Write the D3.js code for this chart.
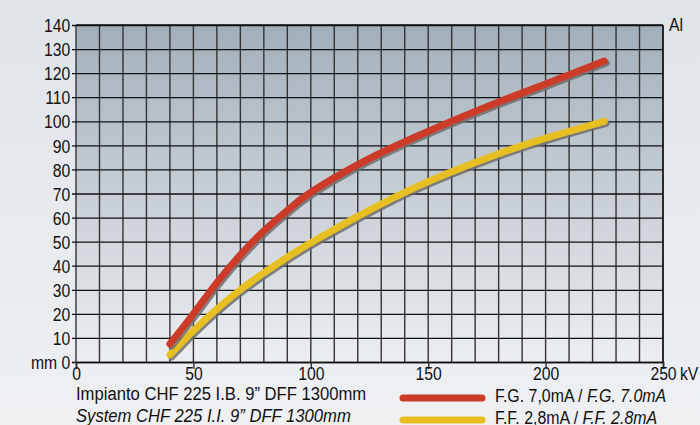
<!DOCTYPE html>
<html>
<head>
<meta charset="utf-8">
<script src="https://cdn.jsdelivr.net/npm/d3@7"></script>
<style>
  html, body { margin: 0; padding: 0; }
  body { width: 700px; height: 425px; overflow: hidden; }
  svg text { font-family: "Liberation Sans", Arial, sans-serif; fill: #111; }
</style>
</head>
<body>
<div id="chart"></div>
<script>
// kV values on x, mm on y
var red_kv = [40, 50, 60, 70, 80, 90, 100, 120, 140, 160, 180, 200, 225];
var red_mm = [7.5, 20, 33, 44.5, 54.5, 63, 70.5, 82, 91.5, 100, 108, 115.5, 125];
var yel_kv = [40, 50, 60, 70, 80, 90, 100, 120, 140, 160, 180, 200, 225];
var yel_mm = [3, 13, 22, 30, 37, 43.5, 49.5, 60.5, 70.5, 79, 86.5, 93, 100];

var x_ticks = [0, 50, 100, 150, 200, 250];
var y_ticks = d3.range(0, 141, 10);
var x_grid = d3.range(0, 251, 10);

var legend_names = ["F.G. 7,0mA / ", "F.F. 2,8mA / "];
var legend_names_en = ["F.G. 7.0mA", "F.F. 2.8mA"];
var footer_it = "Impianto CHF 225 I.B. 9\u201D DFF 1300mm";
var footer_en = "System CHF 225 I.I. 9\u201D DFF 1300mm";

var w = 700, h = 425;
var left = 76, right = 663, top_y = 25, bottom_y = 362;
var fs = 18.5;

var the_svg = d3.select('#chart')
  .append('svg')
    .attr('width', w)
    .attr('height', h);

var defs = the_svg.append('defs');
var pg = defs.append('linearGradient').attr('id', 'page_bg')
  .attr('x1', 0).attr('y1', 0).attr('x2', 0).attr('y2', 1);
pg.append('stop').attr('offset', '0%').attr('stop-color', '#dfe4e9');
pg.append('stop').attr('offset', '100%').attr('stop-color', '#eef0f2');

var plot_bg = defs.append('linearGradient').attr('id', 'plot_bg')
  .attr('x1', 0).attr('y1', 0).attr('x2', 0).attr('y2', 1);
plot_bg.append('stop').attr('offset', '0%').attr('stop-color', '#a2afba');
plot_bg.append('stop').attr('offset', '100%').attr('stop-color', '#eceef1');

the_svg.append('rect')
  .attr('width', w).attr('height', h)
  .attr('fill', 'url(#page_bg)');

var x = d3.scaleLinear().domain([0, 250]).range([left, right]);
var y = d3.scaleLinear().domain([0, 140]).range([bottom_y, top_y]);

the_svg.append('rect')
  .attr('x', x(0)).attr('y', y(140))
  .attr('width', x(250) - x(0)).attr('height', y(0) - y(140))
  .attr('fill', 'url(#plot_bg)');

// vertical grid
the_svg.append('g').selectAll('line')
  .data(x_grid)
  .enter().append('line')
    .attr('x1', function(d) { return x(d); })
    .attr('x2', function(d) { return x(d); })
    .attr('y1', y(140))
    .attr('y2', y(0))
    .attr('stroke', '#333')
    .attr('stroke-width', 1.4);

// y axis doubles as the horizontal grid
var yAxis = d3.axisLeft(y)
  .tickValues(y_ticks)
  .tickSize(-(right - left + 4))
  .tickPadding(2)
  .tickFormat(function(d) { return d == 0 ? 'mm 0' : d; });

var gy = the_svg.append('g')
  .attr('transform', 'translate(' + (left - 4) + ',0)')
  .call(yAxis);
gy.select('.domain').remove();
gy.selectAll('.tick line').attr('stroke', '#111').attr('stroke-width', 1.3);
gy.selectAll('.tick text')
  .attr('font-size', fs)
  .attr('font-family', null)
  .attr('dy', '0.36em')
  .attr('transform', 'scale(0.85,1)');

var xAxis = d3.axisBottom(x)
  .tickValues(x_ticks)
  .tickSize(7)
  .tickPadding(-2);

var gx = the_svg.append('g')
  .attr('transform', 'translate(0,' + y(0) + ')')
  .call(xAxis);
gx.select('.domain').attr('stroke', '#111').attr('stroke-width', 1.6);
gx.selectAll('.tick line').attr('stroke', '#333').attr('stroke-width', 1.4);
gx.selectAll('.tick text')
  .attr('font-size', fs)
  .attr('font-family', null)
  .attr('dy', '0.72em')
  .attr('transform', 'scale(0.85,1)');

the_svg.append('text')
  .attr('transform', 'translate(' + (x(250) + 17) + ',' + (y(0) + 5) + ') scale(0.85,1)')
  .attr('dy', '0.72em')
  .attr('font-size', fs)
  .text('kV');

the_svg.append('text')
  .attr('transform', 'translate(669,31) scale(0.85,1)')
  .attr('font-size', fs)
  .text('Al');

// top and right border
the_svg.append('line')
  .attr('x1', x(0)).attr('x2', x(250))
  .attr('y1', y(140)).attr('y2', y(140))
  .attr('stroke', '#111').attr('stroke-width', 1.6);
the_svg.append('line')
  .attr('x1', x(250)).attr('x2', x(250))
  .attr('y1', y(140)).attr('y2', y(0))
  .attr('stroke', '#111').attr('stroke-width', 1.4);

var line = d3.line()
  .x(function(d) { return x(d[0]); })
  .y(function(d) { return y(d[1]); })
  .curve(d3.curveNatural);

var series = [
  {kv: yel_kv, mm: yel_mm, col: '#e8bf22'},
  {kv: red_kv, mm: red_mm, col: '#cc3a28'}
];

series.forEach(function(s) {
  var pts = s.kv.map(function(k, i) { return [k, s.mm[i]]; });
  the_svg.append('path').datum(pts)
    .attr('d', line)
    .attr('transform', 'translate(1.8,2)')
    .attr('fill', 'none')
    .attr('stroke', '#6e6e6e')
    .attr('stroke-opacity', 0.85)
    .attr('stroke-width', 7)
    .attr('stroke-linecap', 'round');
  the_svg.append('path').datum(pts)
    .attr('d', line)
    .attr('fill', 'none')
    .attr('stroke', s.col)
    .attr('stroke-width', 7)
    .attr('stroke-linecap', 'round');
});

// legend
var leg_cols = ['#cc3a28', '#e8bf22'];
legend_names.forEach(function(n, i) {
  var ly = 398 + i * 22;
  the_svg.append('line')
    .attr('x1', 403).attr('x2', 482)
    .attr('y1', ly).attr('y2', ly)
    .attr('stroke', leg_cols[i])
    .attr('stroke-width', 7)
    .attr('stroke-linecap', 'round');
  var t = the_svg.append('text')
    .attr('transform', 'translate(495,' + (ly + 4) + ') scale(0.86,1)')
    .attr('font-size', fs);
  t.append('tspan').text(n);
  t.append('tspan').attr('font-style', 'italic').text(legend_names_en[i]);
});

the_svg.append('text')
  .attr('transform', 'translate(76,400) scale(0.9,1)')
  .attr('font-size', fs)
  .text(footer_it);
the_svg.append('text')
  .attr('transform', 'translate(76,422) scale(0.9,1)')
  .attr('font-size', fs)
  .attr('font-style', 'italic')
  .text(footer_en);
</script>
</body>
</html>
